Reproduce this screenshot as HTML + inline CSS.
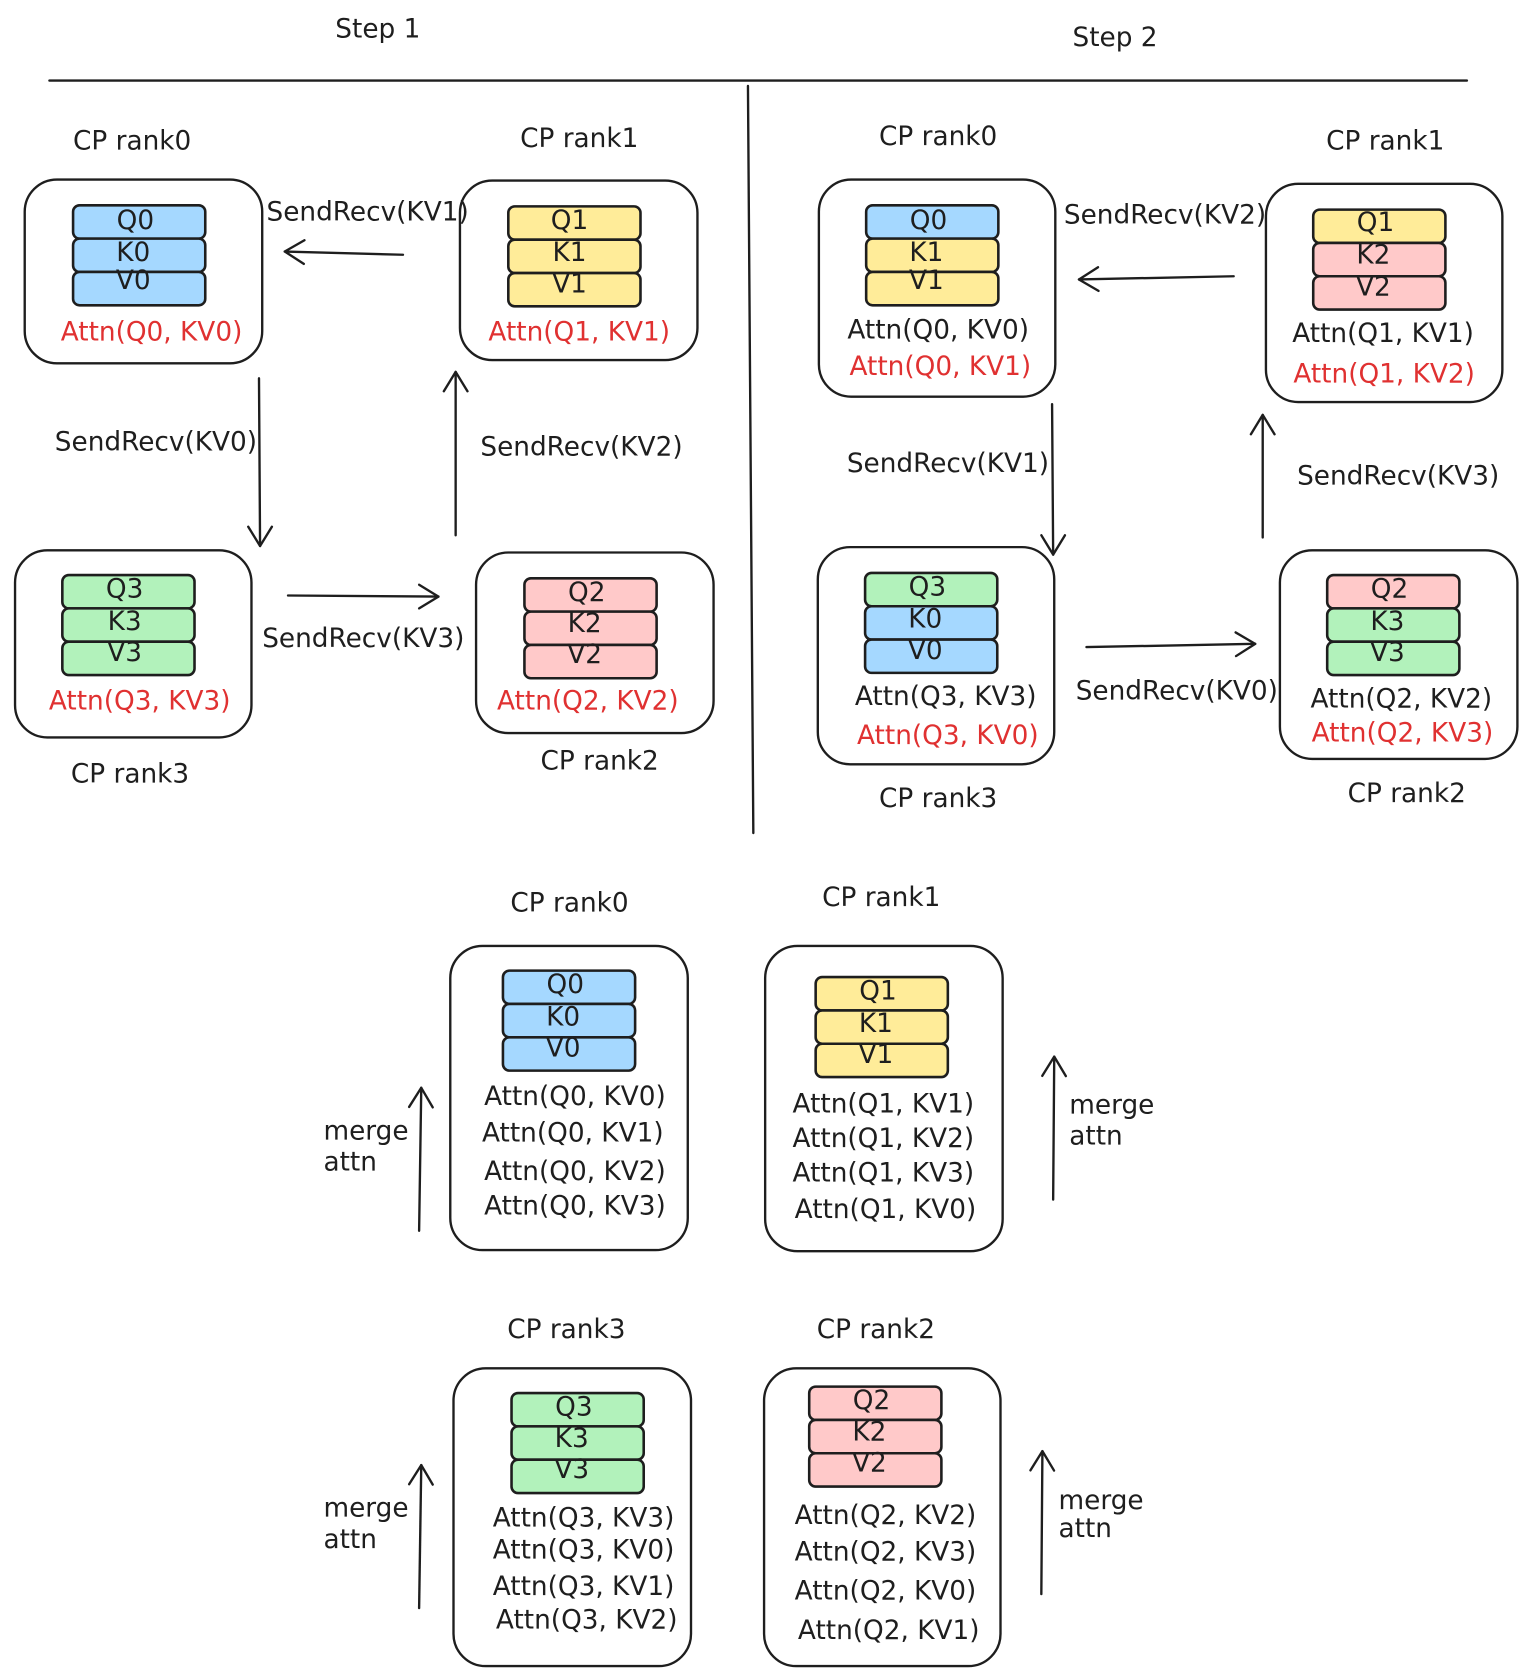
<!DOCTYPE html>
<html><head><meta charset="utf-8"><style>
html,body{margin:0;padding:0;background:#fff;}
svg{display:block;}
text{font-family:"DejaVu Sans","Liberation Sans",sans-serif;font-size:24.5px;fill:#1e1e1e;dominant-baseline:middle;}
.r{fill:#e03131;}
.c{text-anchor:middle;}
.box{fill:none;stroke:#1e1e1e;stroke-width:2.2;}
.cell{stroke:#1e1e1e;stroke-width:2.4;}
.ln{stroke:#1e1e1e;stroke-width:2.2;fill:none;stroke-linecap:round;stroke-linejoin:round;}
.b{fill:#a5d8ff}.y{fill:#ffec99}.g{fill:#b2f2bb}.p{fill:#ffc9c9}
</style></head><body>
<svg width="1526" height="1679" viewBox="0 0 1420 1562" preserveAspectRatio="none" xmlns="http://www.w3.org/2000/svg">
<defs>
<g id="ah"><path class="ln" d="M-18,-11 L0,0 L-18,11"/></g>
</defs>
<text x="312" y="28">Step 1</text>
<text x="998" y="36">Step 2</text>
<line class="ln" x1="46" y1="75" x2="1365" y2="75"/>
<line class="ln" x1="696" y1="80" x2="701" y2="775"/>

<!-- STEP 1 -->
<text class="c" x="123" y="132">CP rank0</text>
<rect class="box" x="23" y="167" width="221" height="171" rx="30"/>
<rect class="cell b" x="68" y="191" width="123" height="31" rx="6"/><text class="c" x="126" y="206">Q0</text>
<rect class="cell b" x="68" y="222" width="123" height="31" rx="6"/><text class="c" x="124" y="236">K0</text>
<rect class="cell b" x="68" y="253" width="123" height="31" rx="6"/><text class="c" x="124" y="262">V0</text>
<text class="c r" x="141" y="310">Attn(Q0, KV0)</text>

<text class="c" x="539" y="130">CP rank1</text>
<rect class="box" x="428" y="168" width="221" height="167" rx="30"/>
<rect class="cell y" x="473" y="192" width="123" height="31" rx="6"/><text class="c" x="530" y="206">Q1</text>
<rect class="cell y" x="473" y="223" width="123" height="31" rx="6"/><text class="c" x="530" y="236">K1</text>
<rect class="cell y" x="473" y="254" width="123" height="31" rx="6"/><text class="c" x="530" y="265">V1</text>
<text class="c r" x="539" y="310">Attn(Q1, KV1)</text>

<line class="ln" x1="375" y1="237" x2="265" y2="234"/><use href="#ah" transform="translate(265,234) rotate(181.5)"/>
<text x="248" y="198">SendRecv(KV1)</text>

<rect class="box" x="14" y="512" width="220" height="174" rx="30"/>
<rect class="cell g" x="58" y="535" width="123" height="31" rx="6"/><text class="c" x="116" y="549">Q3</text>
<rect class="cell g" x="58" y="566" width="123" height="31" rx="6"/><text class="c" x="116" y="579">K3</text>
<rect class="cell g" x="58" y="597" width="123" height="31" rx="6"/><text class="c" x="116" y="608">V3</text>
<text class="c r" x="130" y="653">Attn(Q3, KV3)</text>
<text class="c" x="121" y="721">CP rank3</text>

<rect class="box" x="443" y="514" width="221" height="168" rx="30"/>
<rect class="cell p" x="488" y="538" width="123" height="31" rx="6"/><text class="c" x="546" y="552">Q2</text>
<rect class="cell p" x="488" y="569" width="123" height="31" rx="6"/><text class="c" x="544" y="581">K2</text>
<rect class="cell p" x="488" y="600" width="123" height="31" rx="6"/><text class="c" x="544" y="610">V2</text>
<text class="c r" x="547" y="653">Attn(Q2, KV2)</text>
<text class="c" x="558" y="709">CP rank2</text>

<line class="ln" x1="241" y1="352" x2="242" y2="508"/><use href="#ah" transform="translate(242,508) rotate(90)"/>
<text x="51" y="412">SendRecv(KV0)</text>
<line class="ln" x1="268" y1="554" x2="408" y2="555"/><use href="#ah" transform="translate(408,555) rotate(0)"/>
<text x="244" y="595">SendRecv(KV3)</text>
<line class="ln" x1="424" y1="498" x2="424" y2="346"/><use href="#ah" transform="translate(424,346) rotate(-90)"/>
<text x="447" y="417">SendRecv(KV2)</text>

<!-- STEP 2 -->
<text class="c" x="873" y="128">CP rank0</text>
<rect class="box" x="762" y="167" width="220" height="202" rx="30"/>
<rect class="cell b" x="806" y="191" width="123" height="31" rx="6"/><text class="c" x="864" y="206">Q0</text>
<rect class="cell y" x="806" y="222" width="123" height="31" rx="6"/><text class="c" x="862" y="236">K1</text>
<rect class="cell y" x="806" y="253" width="123" height="31" rx="6"/><text class="c" x="862" y="262">V1</text>
<text class="c" x="873" y="308">Attn(Q0, KV0)</text>
<text class="c r" x="875" y="342">Attn(Q0, KV1)</text>

<text class="c" x="1289" y="132">CP rank1</text>
<rect class="box" x="1178" y="171" width="220" height="203" rx="30"/>
<rect class="cell y" x="1222" y="195" width="123" height="31" rx="6"/><text class="c" x="1280" y="208">Q1</text>
<rect class="cell p" x="1222" y="226" width="123" height="31" rx="6"/><text class="c" x="1278" y="238">K2</text>
<rect class="cell p" x="1222" y="257" width="123" height="31" rx="6"/><text class="c" x="1278" y="268">V2</text>
<text class="c" x="1287" y="311">Attn(Q1, KV1)</text>
<text class="c r" x="1288" y="349">Attn(Q1, KV2)</text>

<line class="ln" x1="1148" y1="257" x2="1004" y2="260"/><use href="#ah" transform="translate(1004,260) rotate(178.8)"/>
<text x="990" y="201">SendRecv(KV2)</text>

<rect class="box" x="761" y="509" width="220" height="202" rx="30"/>
<rect class="cell g" x="805" y="533" width="123" height="31" rx="6"/><text class="c" x="863" y="547">Q3</text>
<rect class="cell b" x="805" y="564" width="123" height="31" rx="6"/><text class="c" x="861" y="577">K0</text>
<rect class="cell b" x="805" y="595" width="123" height="31" rx="6"/><text class="c" x="861" y="606">V0</text>
<text class="c" x="880" y="649">Attn(Q3, KV3)</text>
<text class="c r" x="882" y="685">Attn(Q3, KV0)</text>
<text class="c" x="873" y="744">CP rank3</text>

<rect class="box" x="1191" y="512" width="221" height="194" rx="30"/>
<rect class="cell p" x="1235" y="535" width="123" height="31" rx="6"/><text class="c" x="1293" y="549">Q2</text>
<rect class="cell g" x="1235" y="566" width="123" height="31" rx="6"/><text class="c" x="1291" y="579">K3</text>
<rect class="cell g" x="1235" y="597" width="123" height="31" rx="6"/><text class="c" x="1291" y="608">V3</text>
<text class="c" x="1304" y="651">Attn(Q2, KV2)</text>
<text class="c r" x="1305" y="683">Attn(Q2, KV3)</text>
<text class="c" x="1309" y="739">CP rank2</text>

<line class="ln" x1="979" y1="376" x2="980" y2="516"/><use href="#ah" transform="translate(980,516) rotate(90)"/>
<text x="788" y="432">SendRecv(KV1)</text>
<line class="ln" x1="1011" y1="602" x2="1168" y2="599"/><use href="#ah" transform="translate(1168,599) rotate(-1.1)"/>
<text x="1001" y="644">SendRecv(KV0)</text>
<line class="ln" x1="1175" y1="500" x2="1175" y2="386"/><use href="#ah" transform="translate(1175,386) rotate(-90)"/>
<text x="1207" y="444">SendRecv(KV3)</text>

<!-- BOTTOM -->
<text class="c" x="530" y="841">CP rank0</text>
<rect class="box" x="419" y="880" width="221" height="283" rx="30"/>
<rect class="cell b" x="468" y="903" width="123" height="31" rx="6"/><text class="c" x="526" y="917">Q0</text>
<rect class="cell b" x="468" y="934" width="123" height="31" rx="6"/><text class="c" x="524" y="947">K0</text>
<rect class="cell b" x="468" y="965" width="123" height="31" rx="6"/><text class="c" x="524" y="976">V0</text>
<text class="c" x="535" y="1021">Attn(Q0, KV0)</text>
<text class="c" x="533" y="1055">Attn(Q0, KV1)</text>
<text class="c" x="535" y="1091">Attn(Q0, KV2)</text>
<text class="c" x="535" y="1123">Attn(Q0, KV3)</text>

<text class="c" x="820" y="836">CP rank1</text>
<rect class="box" x="712" y="880" width="221" height="284" rx="30"/>
<rect class="cell y" x="759" y="909" width="123" height="31" rx="6"/><text class="c" x="817" y="923">Q1</text>
<rect class="cell y" x="759" y="940" width="123" height="31" rx="6"/><text class="c" x="815" y="953">K1</text>
<rect class="cell y" x="759" y="971" width="123" height="31" rx="6"/><text class="c" x="815" y="982">V1</text>
<text class="c" x="822" y="1028">Attn(Q1, KV1)</text>
<text class="c" x="822" y="1060">Attn(Q1, KV2)</text>
<text class="c" x="822" y="1092">Attn(Q1, KV3)</text>
<text class="c" x="824" y="1126">Attn(Q1, KV0)</text>

<line class="ln" x1="390" y1="1145" x2="392" y2="1012"/><use href="#ah" transform="translate(392,1012) rotate(-89)"/>
<text x="301" y="1053">merge</text><text x="301" y="1082">attn</text>
<line class="ln" x1="980" y1="1116" x2="981" y2="983"/><use href="#ah" transform="translate(981,983) rotate(-89.5)"/>
<text x="995" y="1029">merge</text><text x="995" y="1058">attn</text>

<text class="c" x="527" y="1238">CP rank3</text>
<rect class="box" x="422" y="1273" width="221" height="277" rx="30"/>
<rect class="cell g" x="476" y="1296" width="123" height="31" rx="6"/><text class="c" x="534" y="1310">Q3</text>
<rect class="cell g" x="476" y="1327" width="123" height="31" rx="6"/><text class="c" x="532" y="1339">K3</text>
<rect class="cell g" x="476" y="1358" width="123" height="31" rx="6"/><text class="c" x="532" y="1368">V3</text>
<text class="c" x="543" y="1413">Attn(Q3, KV3)</text>
<text class="c" x="543" y="1443">Attn(Q3, KV0)</text>
<text class="c" x="543" y="1477">Attn(Q3, KV1)</text>
<text class="c" x="546" y="1508">Attn(Q3, KV2)</text>

<text class="c" x="815" y="1238">CP rank2</text>
<rect class="box" x="711" y="1273" width="220" height="277" rx="30"/>
<rect class="cell p" x="753" y="1290" width="123" height="31" rx="6"/><text class="c" x="811" y="1304">Q2</text>
<rect class="cell p" x="753" y="1321" width="123" height="31" rx="6"/><text class="c" x="809" y="1333">K2</text>
<rect class="cell p" x="753" y="1352" width="123" height="31" rx="6"/><text class="c" x="809" y="1362">V2</text>
<text class="c" x="824" y="1411">Attn(Q2, KV2)</text>
<text class="c" x="824" y="1445">Attn(Q2, KV3)</text>
<text class="c" x="824" y="1481">Attn(Q2, KV0)</text>
<text class="c" x="827" y="1518">Attn(Q2, KV1)</text>

<line class="ln" x1="390" y1="1496" x2="392" y2="1363"/><use href="#ah" transform="translate(392,1363) rotate(-89)"/>
<text x="301" y="1404">merge</text><text x="301" y="1433">attn</text>
<line class="ln" x1="969" y1="1483" x2="970" y2="1350"/><use href="#ah" transform="translate(970,1350) rotate(-89.5)"/>
<text x="985" y="1397">merge</text><text x="985" y="1423">attn</text>
</svg>
</body></html>
